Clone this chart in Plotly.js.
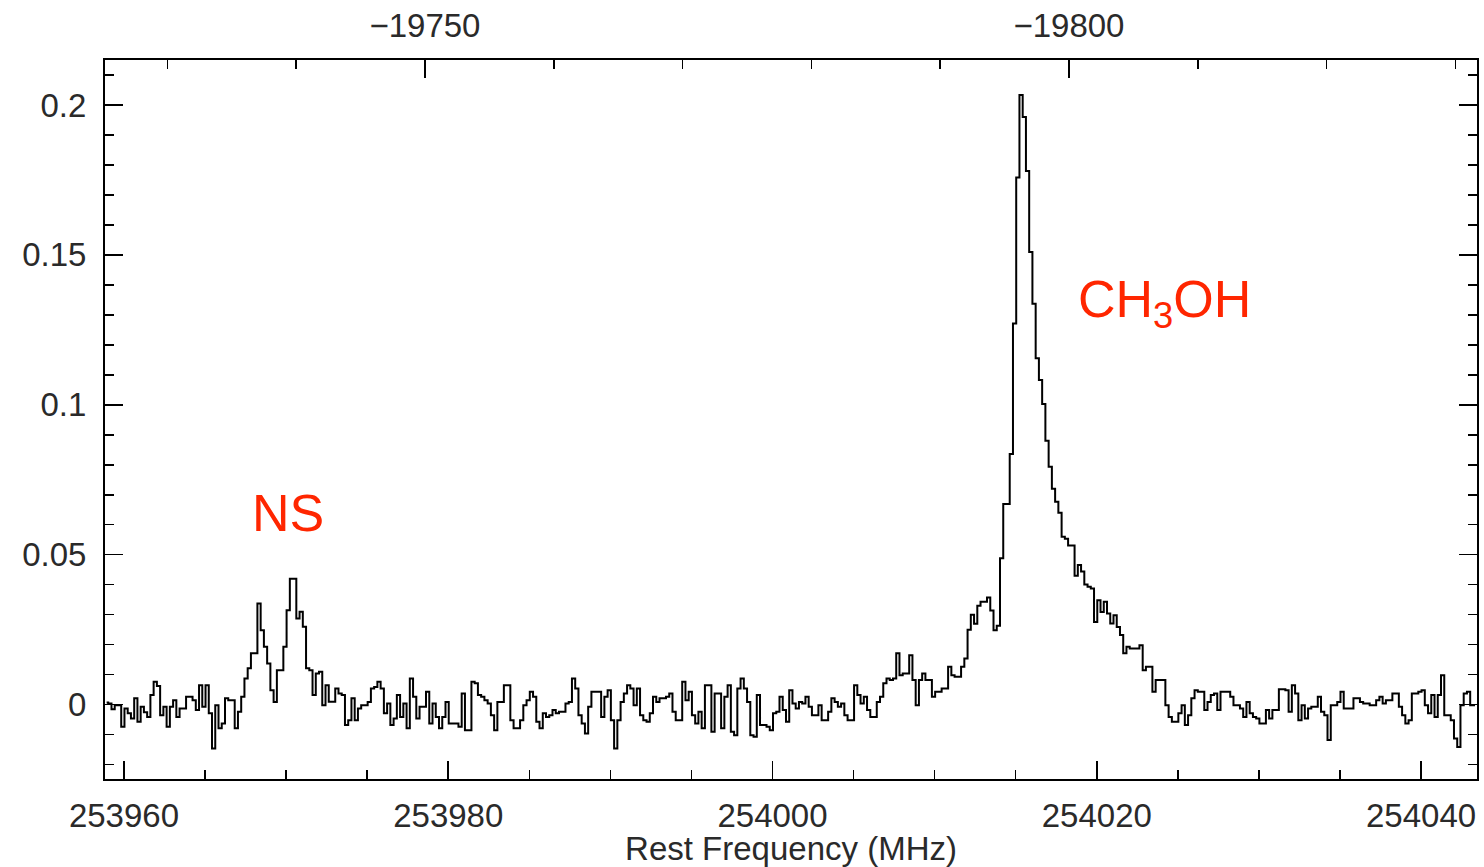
<!DOCTYPE html>
<html>
<head>
<meta charset="utf-8">
<script src="https://cdn.plot.ly/plotly-3.0.1.min.js"></script>
<style>
html,body{margin:0;padding:0;background:#fff;}
#chart{width:1484px;height:867px;}
</style>
</head>
<body>
<div id="chart"></div>
<script>
// Spectrum: channel 0 centre frequency (MHz) and channel width (MHz)
const startFreq = 253958.93;
const channelWidth = 0.2;

// Antenna temperature per channel
const intensity = [
  0.0007, 0.0004, -0.0015, -0.0002, -0.0002, -0.0074, -0.0013, -0.0029, -0.0046, 0.0021,
  -0.0057, -0.0007, -0.0025, -0.0041, 0.0032, 0.0076, 0.0062, -0.0035, -0.0007, -0.0074,
  -0.0007, 0.0015, -0.0041, -0.0013, -0.0013, 0.0026, 0.0026, 0.0015, -0.0018, 0.0065,
  -0.0007, 0.0065, -0.0029, -0.0146, -0.0002, -0.0079, -0.0063, 0.0021, 0.0015, 0.0015,
  -0.0079, -0.0024, 0.0026, 0.0087, 0.0121, 0.0171, 0.0171, 0.0337, 0.0248, 0.0193,
  0.0137, 0.0048, 0.0009, 0.0115,
  0.0115, 0.0193, 0.0315, 0.042, 0.042, 0.0287, 0.031, 0.026, 0.0121, 0.0115,
  0.0032, 0.0104, 0.011, -0.0002, 0.0065, 0.001, 0.001, 0.0054, 0.0037, 0.0032,
  -0.0068, -0.0052, 0.0021, -0.0052, -0.0013, -0.0002, -0.0002, 0.0009, 0.0054, 0.0059,
  0.0076, 0.0054, -0.0029, 0.0004, -0.0068, -0.0046, 0.0032, -0.0041, 0.0004, -0.0079,
  0.0087, 0.0026, -0.0046, -0.0007, -0.0007, 0.0043, -0.0063, 0.0004, -0.0041, -0.0079,
  -0.0041, 0.0009, -0.0063,
  -0.0063, -0.0063, -0.0074, 0.0037, -0.0085, -0.0085, 0.0076, 0.0071, 0.0032, 0.0026,
  0.0015, 0.0004, -0.0035, -0.0085, 0.0009, 0.0009, 0.0065, 0.0065, -0.0052, -0.0079,
  -0.0079, -0.0052, -0.0002, 0.0015, 0.0043, 0.0026, -0.0057, -0.0079, -0.0029, -0.0041,
  -0.0035, -0.0018, -0.0029, -0.0024, -0.0024, 0.0004, 0.0009, 0.0087, 0.0054, -0.0035,
  -0.0063, -0.0096, -0.0007, 0.0043, 0.0043, 0.0043, -0.0041, 0.0026, 0.0048, -0.0052,
  -0.0146, -0.0052, 0.0009, 0.0037,
  0.0065, 0.0054, -0.0002, 0.0054, -0.0035, -0.0052, -0.0057, -0.0029, 0.0026, 0.0009,
  0.0021, 0.0021, 0.0026, 0.0037, -0.0024, -0.0052, -0.0052, 0.0076, 0.0015, 0.0043,
  -0.0035, -0.0063, -0.0024, -0.0079, 0.0065, 0.0065, -0.009, 0.0037, 0.0037, -0.0079,
  0.0026, 0.0065, -0.009, -0.0102, 0.0054, 0.0087, 0.0054, 0.0009, -0.0102, -0.0107,
  0.0032, -0.0068, -0.0068, -0.0074, -0.0085, -0.0029, -0.0024, 0.0026, -0.0018, -0.0057,
  0.0048, 0.0004, -0.0013, 0.0009,
  0.0004, 0.0026, -0.0007, -0.0035, -0.0035, -0.0002, -0.0052, -0.0052, -0.0024, 0.0021,
  0.0009, -0.0007, 0.0004, -0.0035, -0.0052, -0.0052, 0.0065, 0.0032, 0.0004, 0.0026,
  -0.0018, -0.0041, -0.0041, 0.0009, 0.0026, 0.0071, 0.0087, 0.0082, 0.0087, 0.0171,
  0.0098, 0.0104, 0.0104, 0.0165, 0.0082, -0.0002, 0.0082, 0.0104, 0.0082, 0.0082,
  0.0026, 0.0043, 0.0043, 0.0054, 0.0054, 0.0126, 0.0098, 0.0093, 0.0093,
  0.0126, 0.0154, 0.025, 0.03, 0.027, 0.033, 0.0343, 0.0343, 0.0357, 0.0314,
  0.0248, 0.0263, 0.0488, 0.0669, 0.0669, 0.0836, 0.1271, 0.1758, 0.2033, 0.196,
  0.178, 0.151, 0.1337, 0.1155, 0.1083, 0.1003, 0.088, 0.0793, 0.072, 0.0677,
  0.064, 0.056, 0.0553, 0.0531, 0.0531, 0.043, 0.0466, 0.0444, 0.0401, 0.0393,
  0.0387, 0.0276, 0.0348, 0.0309, 0.0343, 0.0304, 0.0271, 0.0298, 0.0259, 0.0232,
  0.0171, 0.0193, 0.0187, 0.0187, 0.0187, 0.0198, 0.0115, 0.0126, 0.0126, 0.0043,
  0.0082, 0.0082, 0.0082, -0.0002, -0.0041, -0.0057, -0.0057, -0.0029, -0.0002, -0.0068,
  -0.0035, 0.0021, 0.0048, 0.0043, 0.0043, -0.0018, 0.0009, 0.0032, 0.0037, -0.0018,
  0.0043, 0.0043, 0.0043, 0.0026, -0.0002, -0.0002, -0.0013, -0.0041, 0.0009, -0.0029,
  -0.0041, -0.0046, -0.0063, -0.0063, -0.0018, -0.0046, -0.0018, -0.0018, 0.0051, 0.0051,
  0.0048, -0.0024, 0.0065, 0.0037, -0.0052, -0.0002, -0.0046, -0.0013, -0.0007, -0.0007,
  0.0026, -0.0024, -0.0035, -0.0118, -0.0002, -0.0002, 0.0009, 0.0043, -0.0013, -0.0013,
  -0.0013, 0.0021, 0.0021, 0.0009, 0.0004, 0.0004, -0.0002, -0.0002, 0.0015, 0.0026,
  0.0004, 0.0015, 0.0015, 0.0037, 0.0037, -0.0007, -0.0035, -0.0063, -0.0052, 0.0037,
  0.0037, 0.0043, 0.0048, -0.0002, -0.0029, 0.0032, -0.0041, 0.0032, 0.0098, -0.0035,
  -0.0035, -0.0052, -0.0113, -0.0141, -0.0002, 0.0037, 0.0043, -0.0002, -0.0002
];

// Axis ranges (MHz for bottom, km/s for top, intensity for left)
const freqRange = [253958.83, 254043.45];
const velocityRange = [-19725.16, -19831.68];
const intensityRange = [-0.0248, 0.215];

// Line labels
const lineLabels = ["NS", "CH<sub>3</sub>OH"];
const labelFreqs = [253970.1, 254024.2];
const labelLevels = [0.0638, 0.1338];

const freqs = intensity.map((_, i) => startFreq + i * channelWidth);

const tickFont = {family: "Liberation Sans, Arial, sans-serif", size: 33, color: "#2a2a2a"};

const trace = {
  x: freqs,
  y: intensity,
  type: "scatter",
  mode: "lines",
  line: {shape: "hvh", color: "#000", width: 2},
  hoverinfo: "skip",
  showlegend: false
};

const dummyTop = {
  x: velocityRange,
  y: [null, null],
  xaxis: "x2",
  yaxis: "y",
  type: "scatter",
  mode: "lines",
  showlegend: false,
  hoverinfo: "skip"
};

const layout = {
  width: 1484,
  height: 867,
  margin: {l: 105, r: 7, t: 60, b: 88},
  paper_bgcolor: "#fff",
  plot_bgcolor: "#fff",
  showlegend: false,
  xaxis: {
    range: freqRange,
    showgrid: false,
    zeroline: false,
    showline: true,
    linecolor: "#000",
    linewidth: 2,
    mirror: false,
    ticks: "inside",
    ticklen: 18,
    tickwidth: 1.5,
    tickcolor: "#000",
    tick0: 253960,
    dtick: 20,
    tickformat: "d",
    tickfont: tickFont,
    ticklabelstandoff: 6,
    minor: {dtick: 5, tick0: 253960, ticks: "inside", ticklen: 9, tickwidth: 1.5, tickcolor: "#000", showgrid: false},
    title: {text: "Rest Frequency (MHz)", font: tickFont, standoff: 2}
  },
  xaxis2: {
    range: velocityRange,
    overlaying: "x",
    side: "top",
    showgrid: false,
    zeroline: false,
    showline: true,
    linecolor: "#000",
    linewidth: 2,
    ticks: "inside",
    ticklen: 18,
    tickwidth: 1.5,
    tickcolor: "#000",
    tick0: -19750,
    dtick: 50,
    tickformat: "d",
    tickfont: tickFont,
    ticklabelstandoff: 8,
    minor: {dtick: 10, tick0: -19750, ticks: "inside", ticklen: 9, tickwidth: 1.5, tickcolor: "#000", showgrid: false}
  },
  yaxis: {
    range: intensityRange,
    showgrid: false,
    zeroline: false,
    showline: true,
    linecolor: "#000",
    linewidth: 2,
    mirror: "ticks",
    ticks: "inside",
    ticklen: 18,
    tickwidth: 1.5,
    tickcolor: "#000",
    tick0: 0,
    dtick: 0.05,
    tickfont: tickFont,
    ticklabelstandoff: 10,
    minor: {dtick: 0.01, tick0: 0, ticks: "inside", ticklen: 9, tickwidth: 1.5, tickcolor: "#000", showgrid: false}
  },
  annotations: lineLabels.map((t, i) => ({
    x: labelFreqs[i],
    y: labelLevels[i],
    xref: "x",
    yref: "y",
    text: t,
    showarrow: false,
    font: {family: "Liberation Sans, Arial, sans-serif", size: 52, color: "#ff2600"},
    xanchor: "center",
    yanchor: "middle"
  }))
};

Plotly.newPlot("chart", [trace, dummyTop], layout, {staticPlot: true, displayModeBar: false});
</script>
</body>
</html>
